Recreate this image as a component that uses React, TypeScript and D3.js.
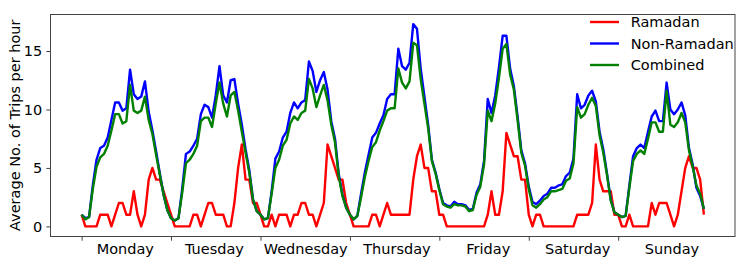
import * as d3 from "d3";
import React from "react";

const days = ["Monday", "Tuesday", "Wednesday", "Thursday", "Friday", "Saturday", "Sunday"];

// hourly averages, 24 values per day, Monday 00h .. Sunday 23h
const ramadan = [
  1, 0, 0, 0, 0, 1, 1, 1, 0, 1, 2, 2, 1, 1, 3, 1, 0, 1, 4, 5, 4, 4, 3, 2,
  1, 0, 0, 0, 0, 0, 1, 1, 0, 1, 2, 2, 1, 1, 1, 0, 0, 2, 5, 7, 4, 4, 2, 2,
  1, 0, 0, 1, 0, 1, 1, 1, 0, 1, 1, 2, 2, 1, 1, 0, 1, 2, 7, 6, 5, 4, 4, 2,
  1, 0, 0, 0, 0, 0, 1, 1, 0, 1, 2, 1, 1, 1, 1, 1, 1, 4, 6, 7, 5, 5, 3, 3,
  1, 1, 0, 0, 0, 0, 0, 0, 0, 0, 0, 0, 0, 1, 3, 1, 1, 3, 8, 7, 6, 6, 4, 4,
  1, 0, 1, 1, 0, 0, 0, 0, 0, 0, 0, 0, 0, 1, 1, 1, 1, 2, 7, 4, 3, 3, 3, 1,
  1, 0, 0, 1, 0, 0, 0, 0, 0, 2, 1, 2, 2, 2, 1, 0, 1, 3, 5, 6, 5, 5, 4, 1,
];

const nonRamadan = [
  1.0, 0.7, 0.8, 3.5, 5.7, 6.7, 6.9, 7.6, 9.1, 10.6, 10.6, 9.9, 10.1, 13.4, 11.3, 10.9, 11.1, 12.4, 9.8, 8.2, 6.4, 4.5, 2.7, 1.4,
  0.7, 0.5, 0.7, 3.2, 6.2, 6.4, 6.9, 7.5, 9.6, 10.4, 10.2, 9.3, 11.2, 13.7, 11.2, 10.6, 12.5, 12.6, 10.5, 8.7, 6.6, 4.8, 2.3, 1.3,
  1.0, 0.6, 0.7, 3.0, 5.8, 6.4, 7.6, 8.1, 9.7, 10.6, 10.1, 10.6, 10.8, 14.1, 13.3, 11.5, 12.5, 13.2, 11.7, 9.0, 7.5, 4.5, 2.7, 1.6,
  1.0, 0.6, 0.9, 2.8, 4.6, 6.1, 7.6, 8.0, 8.8, 9.5, 10.9, 11.3, 11.3, 15.2, 13.7, 13.4, 14.0, 17.3, 16.9, 13.5, 11.1, 8.7, 5.7, 4.6,
  3.2, 2.0, 1.8, 1.7, 2.1, 1.9, 1.9, 1.8, 1.4, 1.5, 2.9, 3.6, 5.6, 10.9, 9.7, 11.2, 13.6, 16.3, 16.3, 13.5, 12.0, 9.4, 6.5, 5.4,
  3.4, 2.1, 1.9, 2.2, 2.6, 2.8, 3.3, 3.3, 3.5, 3.6, 4.3, 4.6, 5.8, 11.3, 10.1, 10.4, 11.2, 11.6, 10.7, 8.1, 6.6, 4.5, 2.3, 1.2,
  1.0, 0.8, 0.9, 3.5, 6.0, 6.7, 7.0, 6.7, 8.1, 9.4, 9.9, 9.0, 9.0, 12.3, 10.0, 9.6, 10.0, 10.6, 9.5, 6.7, 5.3, 3.3, 2.6, 1.5,
];

const combined = [
  1.0, 0.6, 0.8, 3.2, 5.1, 5.9, 6.2, 6.9, 8.2, 9.6, 9.6, 8.8, 9.0, 12.1, 9.9, 9.7, 9.9, 11.1, 9.1, 7.9, 6.1, 4.4, 2.7, 1.4,
  0.7, 0.5, 0.7, 2.9, 5.4, 5.7, 6.2, 6.9, 9.0, 9.3, 9.3, 8.5, 10.5, 12.3, 10.5, 9.4, 11.2, 11.5, 9.9, 8.1, 6.3, 4.6, 2.3, 1.3,
  1.0, 0.6, 0.7, 2.8, 5.0, 5.7, 6.9, 7.4, 8.8, 9.4, 9.1, 9.7, 9.9, 12.6, 11.8, 10.2, 11.2, 12.1, 10.8, 8.7, 7.2, 4.3, 2.6, 1.6,
  1.0, 0.6, 0.9, 2.5, 4.2, 5.6, 6.8, 7.2, 8.2, 9.0, 9.9, 10.1, 10.1, 13.5, 12.3, 11.8, 12.4, 15.7, 15.5, 12.6, 10.5, 8.4, 5.6, 4.5,
  3.1, 1.9, 1.7, 1.6, 1.9, 1.8, 1.8, 1.7, 1.3, 1.4, 2.7, 3.4, 5.3, 9.9, 9.0, 10.5, 12.7, 15.2, 15.6, 13.0, 11.7, 9.1, 6.3, 5.2,
  3.2, 1.8, 1.6, 1.9, 2.3, 2.5, 3.0, 3.0, 3.1, 3.2, 3.9, 4.1, 5.4, 10.2, 9.3, 9.6, 10.4, 11.0, 10.3, 7.8, 6.3, 4.4, 2.2, 1.2,
  1.0, 0.8, 0.9, 3.3, 5.6, 6.2, 6.5, 6.2, 7.5, 8.9, 8.9, 8.1, 8.1, 11.6, 8.7, 8.5, 8.9, 9.7, 8.9, 6.5, 5.1, 3.5, 2.8, 1.5,
];

const seriesNames = ["Ramadan", "Non-Ramadan", "Combined"];
const seriesColors = ["#ff0000", "#0000ff", "#008000"];
const yTicks = [0, 5, 10, 15];
// hour index where each day name sits
const dayLabelHours = [11.6, 35.5, 60, 84.5, 109, 133, 158.3];

const App = (): React.ReactElement => {
  const chartRef = React.useRef<SVGSVGElement>(null);

  const width = 747;
  const height = 262;
  const margin = { top: 14, right: 12, bottom: 25.5, left: 50.5 };
  const font = "DejaVu Sans";
  const fontSize = 14.5;
  const frameColor = "#444";
  const lineWidth = 2.4;

  React.useEffect(() => {
    const svg = d3.select(chartRef.current);
    svg.selectAll("*").remove();

    const allSeries = [ramadan, nonRamadan, combined];
    const n = ramadan.length;

    // matplotlib-ish 5% margins
    const xPad = (n - 1) * 0.05;
    const xScale = d3
      .scaleLinear()
      .domain([-xPad, n - 1 + xPad])
      .range([margin.left, width - margin.right]);

    const yMax = d3.max(allSeries, (s) => d3.max(s)) as number;
    const yMin = d3.min(allSeries, (s) => d3.min(s)) as number;
    const yPad = (yMax - yMin) * 0.05;
    const yScale = d3
      .scaleLinear()
      .domain([yMin - yPad, yMax + yPad])
      .range([height - margin.bottom, margin.top]);

    // y axis
    const yAxis = svg
      .append("g")
      .attr("transform", `translate(${margin.left}, 0)`)
      .call(
        d3
          .axisLeft(yScale)
          .tickValues(yTicks)
          .tickSize(4.2)
          .tickPadding(4.2)
          .tickFormat((d) => `${d}`)
      );
    yAxis.select(".domain").remove();
    yAxis.selectAll("line").attr("stroke", frameColor);
    yAxis
      .selectAll("text")
      .attr("font-family", font)
      .attr("font-size", fontSize)
      .attr("fill", "#000");

    // x axis: ticks at day starts, labels in between
    const xTicks = svg
      .append("g")
      .attr("transform", `translate(0, ${height - margin.bottom})`)
      .call(
        d3
          .axisBottom(xScale)
          .tickValues(days.map((_, i) => i * 24))
          .tickSize(4.2)
          .tickFormat(() => "")
      );
    xTicks.select(".domain").remove();
    xTicks.selectAll("line").attr("stroke", frameColor);

    const xLabels = svg
      .append("g")
      .attr("transform", `translate(0, ${height - margin.bottom})`)
      .call(
        d3
          .axisBottom(xScale)
          .tickValues(dayLabelHours)
          .tickSize(0)
          .tickPadding(6.8)
          .tickFormat((_, i) => days[i])
      );
    xLabels.select(".domain").remove();
    xLabels
      .selectAll("text")
      .attr("font-family", font)
      .attr("font-size", fontSize)
      .attr("fill", "#000");

    // lines
    const line = d3
      .line<number>()
      .x((_, i) => xScale(i))
      .y((d) => yScale(d));

    allSeries.forEach((s, k) => {
      svg
        .append("path")
        .datum(s)
        .attr("fill", "none")
        .attr("stroke", seriesColors[k])
        .attr("stroke-width", lineWidth)
        .attr("stroke-linejoin", "round")
        .attr("d", line);
    });

    // frame
    svg
      .append("rect")
      .attr("x", margin.left)
      .attr("y", margin.top + 0.5)
      .attr("width", width - margin.right - margin.left)
      .attr("height", height - margin.bottom - margin.top - 0.5)
      .attr("fill", "none")
      .attr("stroke", frameColor)
      .attr("stroke-width", 1);

    // legend
    const legend = svg.append("g").attr("transform", "translate(590, 22)");
    seriesNames.forEach((name, k) => {
      const g = legend.append("g").attr("transform", `translate(0, ${k * 21.5})`);
      g.append("line")
        .attr("x1", 0)
        .attr("x2", 29)
        .attr("stroke", seriesColors[k])
        .attr("stroke-width", lineWidth);
      g.append("text")
        .attr("x", 40.7)
        .attr("dy", "0.36em")
        .attr("font-family", font)
        .attr("font-size", fontSize)
        .attr("fill", "#000")
        .text(name);
    });

    // y label
    svg
      .append("text")
      .attr(
        "transform",
        `translate(19.5, ${(margin.top + height - margin.bottom) / 2}) rotate(-90)`
      )
      .attr("text-anchor", "middle")
      .attr("font-family", font)
      .attr("font-size", fontSize)
      .attr("fill", "#000")
      .text("Average No. of Trips per hour");
  }, []);

  return (
    <svg
      ref={chartRef}
      width={width}
      height={height}
      style={{ position: "absolute", left: 0, top: 0, background: "#fff" }}
    ></svg>
  );
};

export default App;
